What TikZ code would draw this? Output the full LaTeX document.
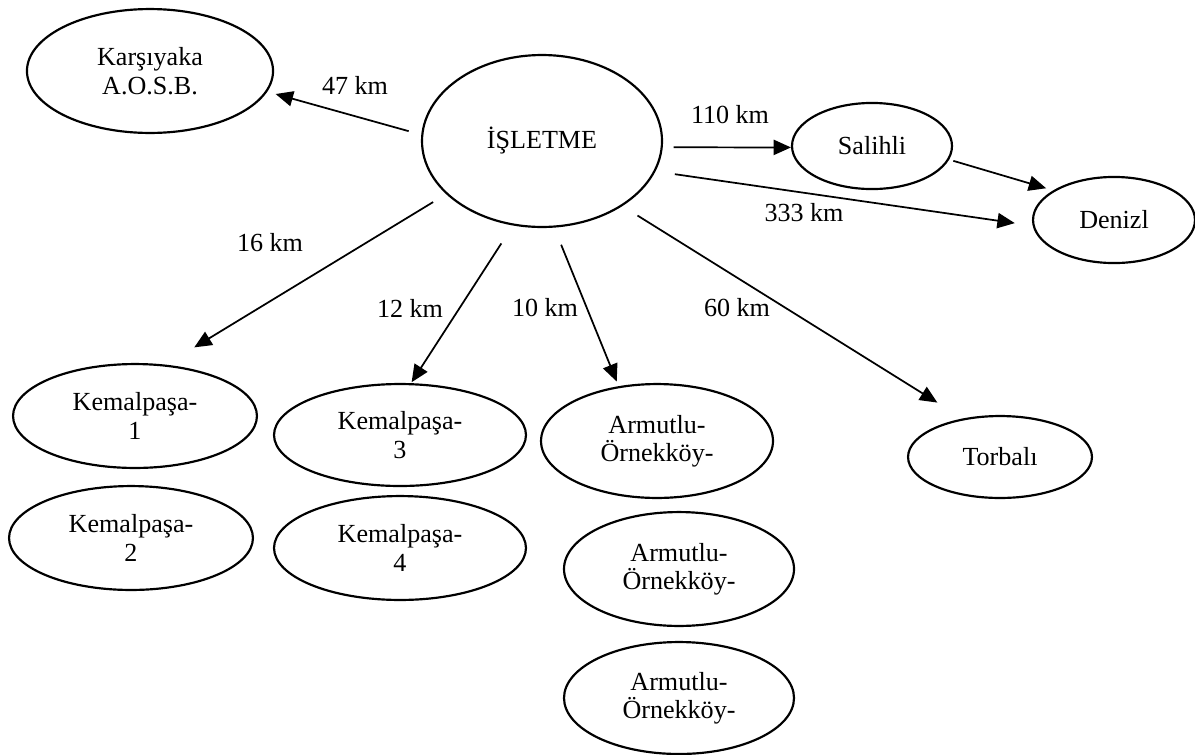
\documentclass[tikz,border=0pt]{standalone}
\usepackage{fontspec}
\setmainfont{Liberation Serif}
\usetikzlibrary{shapes.geometric,arrows.meta}

\begin{document}
\begin{tikzpicture}[x=0.46pt,y=-0.46pt,font=\fontsize{12}{13}\selectfont,>={Triangle[length=8pt,width=7pt]},
    place/.style={ellipse,draw,line width=1pt,inner sep=0pt,align=center},
    road/.style={->,line width=0.8pt}]
  \useasboundingbox (0,0) rectangle (1195,754);
  % yerler
  \node[place,minimum width=113.2pt,minimum height=57pt] (karsiyaka) at (150,71) {Karşıyaka\\A.O.S.B.};
  \node[place,minimum width=110.4pt,minimum height=79.1pt] (isletme) at (542,141) {İŞLETME};
  \node[place,minimum width=73.6pt,minimum height=39.6pt] (salihli) at (872,146) {Salihli};
  \node[place,minimum width=74.5pt,minimum height=39.6pt] (denizli) at (1114,220) {Denizl};
  \node[place,minimum width=112.2pt,minimum height=47.8pt] (kp1) at (135,416) {Kemalpaşa-\\1};
  \node[place,minimum width=112.2pt,minimum height=47.8pt] (kp2) at (131,538) {Kemalpaşa-\\2};
  \node[place,minimum width=115.9pt,minimum height=46.9pt] (kp3) at (400,435) {Kemalpaşa-\\3};
  \node[place,minimum width=115.9pt,minimum height=47.8pt] (kp4) at (400,548) {Kemalpaşa-\\4};
  \node[place,minimum width=106.7pt,minimum height=52.4pt] (arm1) at (657,441) {Armutlu-\\Örnekköy-};
  \node[place,minimum width=105.8pt,minimum height=52.4pt] (arm2) at (679,569) {Armutlu-\\Örnekköy-};
  \node[place,minimum width=105.8pt,minimum height=51.5pt] (arm3) at (679,698) {Armutlu-\\Örnekköy-};
  \node[place,minimum width=84.6pt,minimum height=37.7pt] (torbali) at (1000,457) {Torbalı};
  % yollar
  \draw[road,shorten <=6pt,shorten >=4pt] (isletme.177) -- (karsiyaka.-10);
  \draw[road,shorten <=5pt] (isletme.-3.4) -- (salihli.181.4);
  \draw[road,shorten <=2pt,shorten >=3.4pt] (salihli.-10.6) -- (denizli.154.5);
  \draw[road,shorten <=9pt,shorten >=8.3pt] (isletme.-15.4) -- (denizli.184);
  \draw[road,shorten <=7pt,shorten >=15.3pt] (isletme.209.7) -- (kp1.59.3);
  \draw[road,shorten <=9.8pt,shorten >=0.5pt] (isletme.251.9) -- (kp3.78);
  \draw[road,shorten <=8.5pt,shorten >=2.3pt] (isletme.-82.9) -- (arm1.125.3);
  \draw[road,shorten <=8.2pt,shorten >=13.8pt] (isletme.-39.3) -- (torbali.134.5);
  % mesafeler
  \node (d47) at (355,85) {47 km};
  \node (d110) at (730,115) {110 km};
  \node (d333) at (804,213) {333 km};
  \node (d16) at (270,243) {16 km};
  \node (d12) at (410,308) {12 km};
  \node (d10) at (545,308) {10 km};
  \node (d60) at (737,308) {60 km};
\end{tikzpicture}
\end{document}
